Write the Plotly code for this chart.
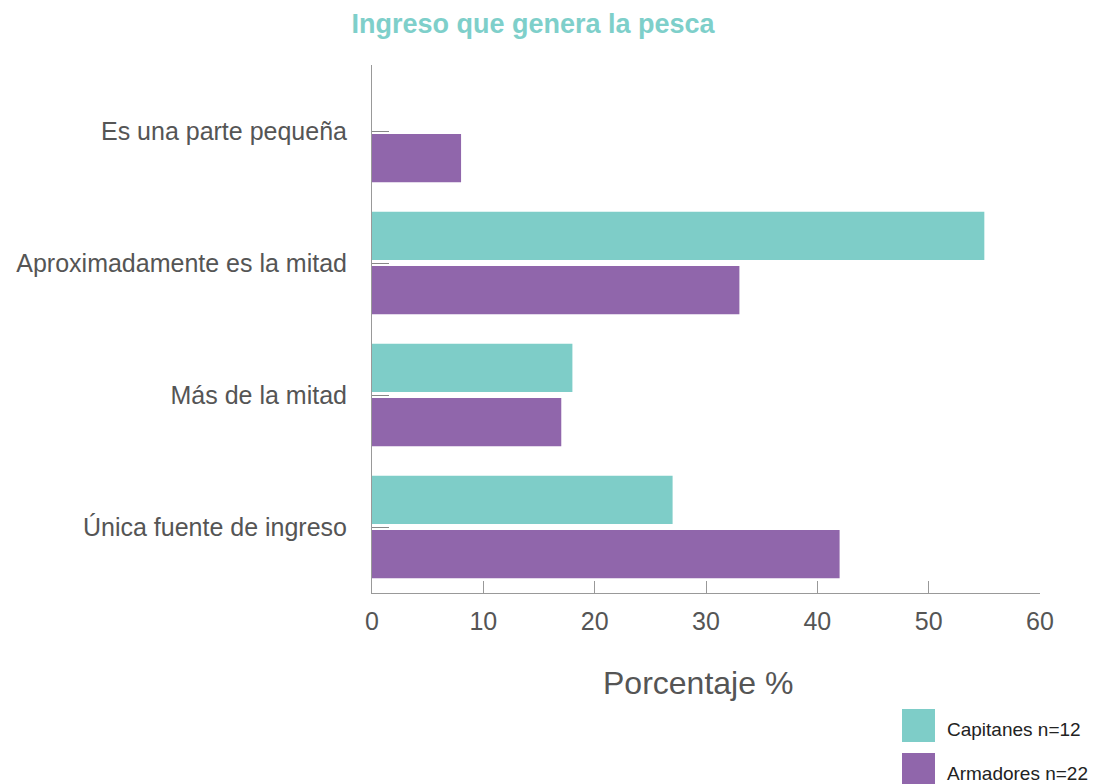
import plotly.graph_objects as go

categories = ["Es una parte pequeña", "Aproximadamente es la mitad", "Más de la mitad", "Única fuente de ingreso"]
series_names = ["Capitanes n=12", "Armadores n=22"]
capitanes = [0, 55, 18, 27]
armadores = [8, 33, 17, 42]
x_ticks = [0, 10, 20, 30, 40, 50, 60]

colors = ["#7ECDC8", "#9066AB"]
FONT = "Liberation Sans, Arial, sans-serif"

# page body has an 8px margin; figure is sized so the plot area lands at screen x 372-1040, y 65-593
W, H = 1093, 776

fig = go.Figure()
# horizontal grouped bars stack first trace at the bottom -> add Armadores first
for name, vals, col in list(zip(series_names, [capitanes, armadores], colors))[::-1]:
    fig.add_trace(go.Bar(y=categories, x=vals, name=name, orientation="h",
                         marker=dict(color=col, line=dict(width=0)), showlegend=False))

fig.update_layout(
    width=W, height=H,
    margin=dict(l=364, r=W - 1032, t=57, b=H - 585, autoexpand=False),
    paper_bgcolor="white", plot_bgcolor="white",
    barmode="group", bargap=0.18, bargroupgap=0.11,
    font=dict(family=FONT, color="#555555"),
    title=dict(text="<b>Ingreso que genera la pesca</b>", x=525 / W, xanchor="center",
               y=1 - 16 / H, yanchor="middle", xref="container", yref="container",
               font=dict(size=27, color="#7ECFCA", family=FONT)),
)
fig.update_xaxes(range=[0, 60], tickvals=x_ticks, showgrid=False, zeroline=False,
                 showline=True, linecolor="#999999", linewidth=1,
                 ticks="inside", ticklen=12, tickcolor="#999999",
                 ticklabelstandoff=6,
                 tickfont=dict(size=25, color="#555555"))
fig.update_yaxes(categoryorder="array", categoryarray=categories[::-1],
                 range=[-0.5, 3.5], showgrid=False, zeroline=False,
                 showline=True, linecolor="#999999", linewidth=1,
                 ticks="inside", ticklen=17, tickcolor="#888888",
                 ticklabelstandoff=19,
                 tickfont=dict(size=25, color="#555555"))

# x-axis title
fig.add_annotation(xref="paper", yref="paper", x=(698 - 372) / 668, y=(593 - 683) / 528,
                   text="Porcentaje %", showarrow=False, xanchor="center", yanchor="middle",
                   font=dict(size=32, color="#555555", family=FONT))

# custom legend (large square swatches)
for i, (name, col) in enumerate(zip(series_names, colors)):
    y0 = 709 + i * 44
    fig.add_shape(type="rect", xref="paper", yref="paper",
                  x0=(902 - 372) / 668, x1=(935 - 372) / 668,
                  y0=(593 - y0) / 528, y1=(593 - (y0 + 33)) / 528,
                  fillcolor=col, line=dict(width=0))
    fig.add_annotation(xref="paper", yref="paper", x=(945 - 372) / 668, y=(593 - (y0 + 20)) / 528,
                       text=name, showarrow=False, xanchor="left", yanchor="middle",
                       font=dict(size=19, color="#222222", family=FONT))

fig.write_html("out.html")
